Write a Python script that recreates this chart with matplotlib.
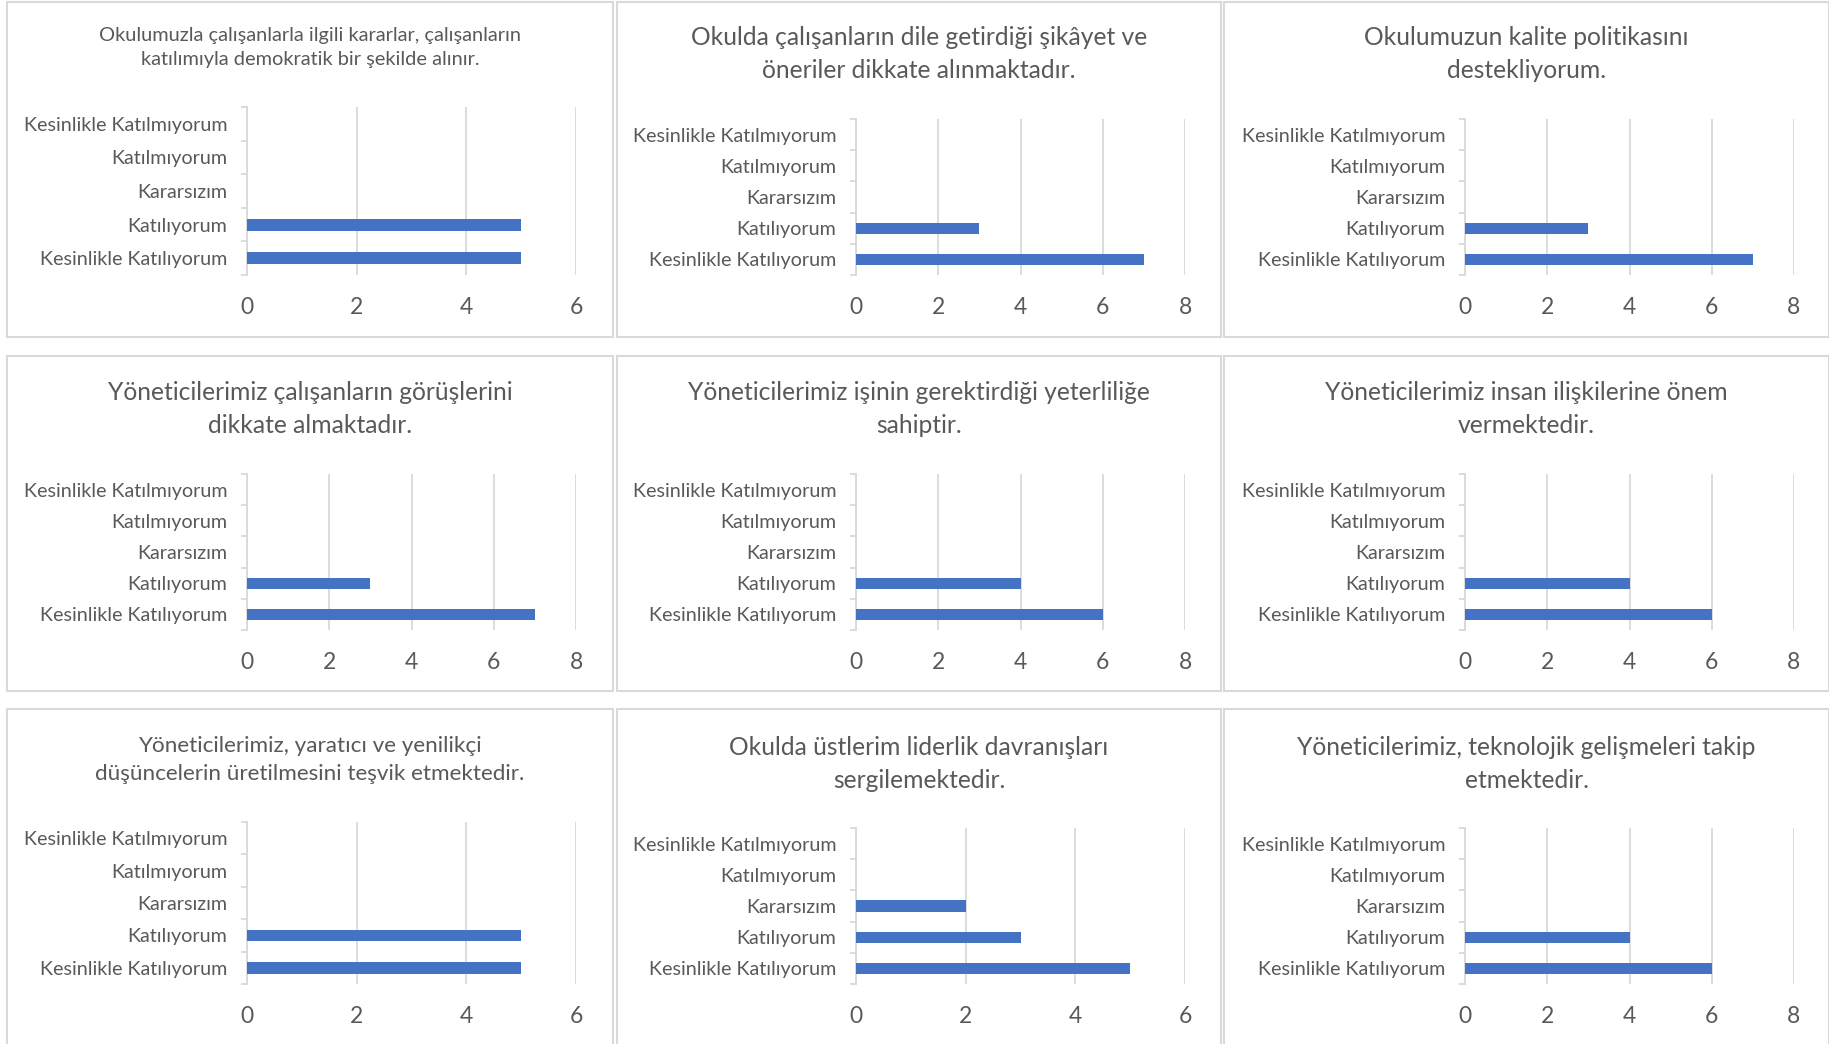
import matplotlib.pyplot as plt
from matplotlib.patches import Rectangle
from matplotlib.ticker import FixedLocator

plt.rcParams['font.family'] = ['Lato', 'DejaVu Sans']

W, H = 1829, 1044

categories = ["Kesinlikle Katılıyorum", "Katılıyorum", "Kararsızım",
              "Katılmıyorum", "Kesinlikle Katılmıyorum"]

titles = [
    "Okulumuzla çalışanlarla ilgili kararlar, çalışanların\nkatılımıyla demokratik bir şekilde alınır.",
    "Okulda çalışanların dile getirdiği şikâyet ve\nöneriler dikkate alınmaktadır.",
    "Okulumuzun kalite politikasını\ndestekliyorum.",
    "Yöneticilerimiz çalışanların görüşlerini\ndikkate almaktadır.",
    "Yöneticilerimiz işinin gerektirdiği yeterliliğe\nsahiptir.",
    "Yöneticilerimiz insan ilişkilerine önem\nvermektedir.",
    "Yöneticilerimiz, yaratıcı ve yenilikçi\ndüşüncelerin üretilmesini teşvik etmektedir.",
    "Okulda üstlerim liderlik davranışları\nsergilemektedir.",
    "Yöneticilerimiz, teknolojik gelişmeleri takip\netmektedir.",
]

# answer counts, same order as categories
p1 = [5, 5, 0, 0, 0]
p2 = [7, 3, 0, 0, 0]
p3 = [7, 3, 0, 0, 0]
p4 = [7, 3, 0, 0, 0]
p5 = [6, 4, 0, 0, 0]
p6 = [6, 4, 0, 0, 0]
p7 = [5, 5, 0, 0, 0]
p8 = [5, 3, 2, 0, 0]
p9 = [6, 4, 0, 0, 0]
counts = [p1, p2, p3, p4, p5, p6, p7, p8, p9]
xmax = [6, 8, 8, 8, 8, 8, 6, 6, 8]

title_size = [14.4, 17.7, 17.7, 17.7, 17.7, 17.7, 16.2, 17.7, 17.7]

col_x = [(7, 613), (617, 1221), (1224, 1829)]
row_y = [(2, 337), (356, 691), (709, 1050)]
axis_left = [247, 856, 1465]
axis_w = 329
# plot top / bottom for each panel (pixels from top)
plot_top = [107, 119, 119, 474, 474, 474, 822, 828, 828]
plot_bot = [275, 275, 275, 630, 630, 630, 984, 984, 984]
title_y = [47, 54, 54, 409, 409, 409, 760, 764, 764]

txt = '#595959'
grid = '#D9D9D9'
bar_c = '#4472C4'

fig = plt.figure(figsize=(W / 100, H / 100), dpi=100)
fig.patch.set_facecolor('white')

for i in range(9):
    r, c = divmod(i, 3)
    x0, x1 = col_x[c]
    y0, y1 = row_y[r]
    fig.patches.append(Rectangle((x0 / W, 1 - y1 / H), (x1 - x0) / W, (y1 - y0) / H,
                                 transform=fig.transFigure, facecolor='white',
                                 edgecolor=grid, lw=1.5, zorder=-10))
    fig.text((x0 + x1) / 2 / W, 1 - title_y[i] / H, titles[i], ha='center', va='center',
             fontsize=title_size[i], color=txt, linespacing=1.5)

    top, bot = plot_top[i], plot_bot[i]
    ax = fig.add_axes([axis_left[c] / W, 1 - bot / H, axis_w / W, (bot - top) / H])
    ax.set_facecolor('none')
    ax.barh(range(5), counts[i], height=0.36, color=bar_c, zorder=3)
    ax.set_ylim(-0.5, 4.5)
    ax.set_xlim(0, xmax[i])
    ax.set_xticks(range(0, xmax[i] + 1, 2))
    ax.set_yticks(range(5))
    ax.set_yticklabels(categories)
    ax.yaxis.set_minor_locator(FixedLocator([k - 0.5 for k in range(6)]))
    ax.grid(axis='x', color=grid, lw=1.3, zorder=0)
    for s in ['top', 'right', 'bottom']:
        ax.spines[s].set_visible(False)
    ax.spines['left'].set_color(grid)
    ax.spines['left'].set_linewidth(1.3)
    ax.tick_params(axis='y', which='major', length=0, pad=14, labelsize=14.2, labelcolor=txt)
    ax.tick_params(axis='y', which='minor', length=4, width=1.3, color=grid)
    ax.tick_params(axis='x', length=0, pad=16, labelsize=16.5, labelcolor=txt)

fig.savefig('out.png', dpi=100)
